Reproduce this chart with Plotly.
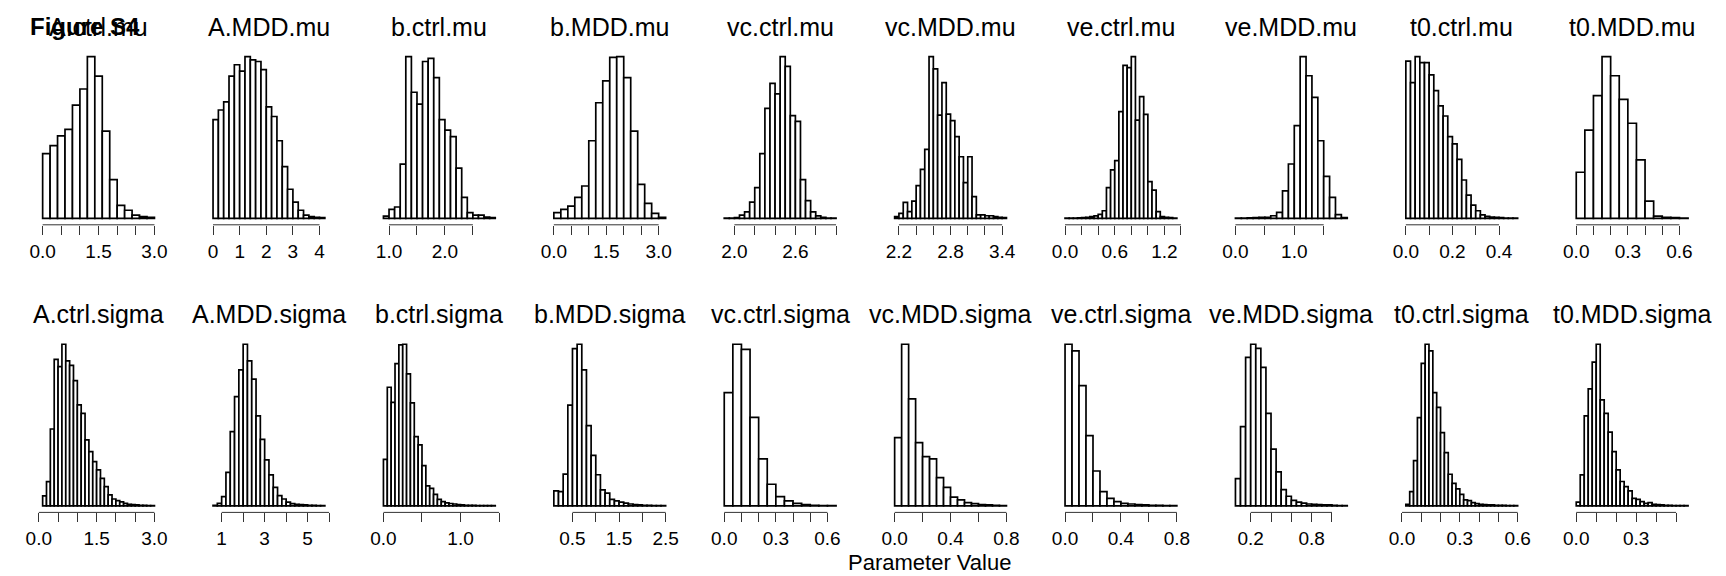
import plotly.graph_objects as go

W, H = 1726, 576

TITLES = ["A.ctrl.mu", "A.MDD.mu", "b.ctrl.mu", "b.MDD.mu", "vc.ctrl.mu",
          "vc.MDD.mu", "ve.ctrl.mu", "ve.MDD.mu", "t0.ctrl.mu", "t0.MDD.mu",
          "A.ctrl.sigma", "A.MDD.sigma", "b.ctrl.sigma", "b.MDD.sigma", "vc.ctrl.sigma",
          "vc.MDD.sigma", "ve.ctrl.sigma", "ve.MDD.sigma", "t0.ctrl.sigma", "t0.MDD.sigma"]

# first histogram break and bin width of each panel
BIN_START = [0.0, 0.0, 0.9, 0.0, 1.9, 2.15, 0.0, 0.0, 0.0, 0.0,
             0.1, 0.6, 0.0, 0.1, 0.0, 0.0, 0.0, 0.05, 0.02, 0.0]
BIN_WIDTH = [0.2, 0.2, 0.1, 0.2, 0.05, 0.05, 0.05, 0.1, 0.02, 0.05,
             0.1, 0.2, 0.05, 0.1, 0.05, 0.05, 0.05, 0.05, 0.02, 0.02]

# relative bar heights (tallest bar = 100)
A_ctrl_mu = [40, 45, 51, 55, 70, 80, 100, 88, 54, 24, 8, 5, 2, 1, 0.6]
A_MDD_mu = [61, 67, 72, 88, 95, 91, 100, 98, 97, 92, 69, 63, 48, 32, 18, 10, 5, 2, 1, 0.6, 0.4]
b_ctrl_mu = [1.4, 5.6, 7, 33.5, 100, 78, 70.7, 97, 99, 87, 61, 54.5, 50.6, 31, 13, 3.5, 2, 2, 0.8, 0.4]
b_MDD_mu = [3.5, 5.6, 7.6, 13, 20, 48, 71.5, 85, 99.6, 100, 87, 54, 21, 9.3, 3.1, 0.6]
vc_ctrl_mu = [0.2, 0.2, 0.4, 2, 4, 10, 19, 40, 68, 83.5, 77, 100, 94, 63.5, 60, 24, 11, 4,
              1.5, 0.6, 0.2, 0.2]
vc_MDD_mu = [1, 3.1, 9.9, 4.1, 10.7, 20.2, 30.3, 42.7, 100, 92.4, 63.9, 83.9, 64.5, 60.4,
             50.5, 38.1, 22.1, 38.1, 13.4, 2.1, 2.1, 1.6, 1.6, 1, 0.6, 0.4]
ve_ctrl_mu = [0.2, 0.2, 0.2, 0.3, 0.4, 0.6, 1, 1.5, 2.5, 4.7, 19, 30, 35.7, 66, 94.6, 93.2,
              100, 60.8, 75.3, 64.3, 22.7, 17.5, 4.1, 1, 0.6, 0.4, 0.2]
ve_MDD_mu = [0.2, 0.2, 0.3, 0.4, 0.6, 0.6, 1.6, 3.7, 17, 33.6, 57.3, 100, 88.2, 74.8, 48,
             26, 13, 2.3, 0.4]
t0_ctrl_mu = [97.3, 83.9, 100, 96.3, 96.3, 88.7, 79, 69.5, 63.3, 50.5, 46, 36.5, 23.7, 14.4,
              8.2, 4.7, 2.1, 1.2, 0.8, 0.6, 0.4, 0.2, 0.2, 0.2]
t0_MDD_mu = [28.5, 54.6, 75.9, 100, 88.2, 73.6, 58.8, 36.1, 10.7, 1.4, 0.6, 0.4, 0.2]
A_ctrl_sigma = [6.2, 15, 47.6, 90.7, 86.2, 100, 89.7, 87, 77.5, 62.5, 57.3, 40.8, 33.6, 27.4,
                22.3, 17.1, 12, 6.8, 4.3, 3.3, 2.5, 1.6, 1, 0.8, 0.6, 0.4, 0.4, 0.2, 0.2]
A_MDD_sigma = [0.4, 1.6, 5.8, 20.8, 46, 67.6, 84.1, 100, 89.7, 78.4, 55.7, 41.2, 28.5, 19.2,
               11.5, 6.4, 4.3, 2.3, 1.4, 1, 0.8, 0.6, 0.4, 0.4, 0.2, 0.2]
b_ctrl_sigma = [28.8, 73.4, 64.1, 88, 99.6, 100, 81.7, 63.7, 42.9, 37.8, 24.9, 12.4, 10.8,
                7.1, 4.1, 2.7, 1.9, 1.5, 1.2, 0.8, 0.6, 0.4, 0.4, 0.4, 0.2, 0.2, 0.2, 0.2, 0.2]
b_MDD_sigma = [9.3, 8.9, 19.7, 62.3, 97.3, 100, 84.1, 49.7, 31.3, 19.3, 9.9, 7.9, 4.1, 3.1,
               2.3, 1.7, 1.2, 0.8, 0.6, 0.4, 0.4, 0.2, 0.2, 0.2]
vc_ctrl_sigma = [70.1, 100, 96.9, 54.8, 29.1, 13.4, 5.8, 3.1, 1.6, 0.8, 0.4, 0.2, 0.2]
vc_MDD_sigma = [42.3, 100, 66.2, 39.2, 30.5, 29.1, 17.5, 11.5, 5.4, 3.7, 2.1, 1.4, 0.8, 0.6,
                0.4, 0.2]
ve_ctrl_sigma = [100, 95.9, 74.4, 43.5, 21.6, 8.9, 4.7, 2.7, 1.6, 1.2, 0.8, 0.6, 0.4, 0.4,
                 0.2, 0.2]
ve_MDD_sigma = [16.9, 49, 91.9, 100, 97.5, 85.7, 57.2, 35.1, 21.1, 10.1, 6, 3.5, 2.3, 1.7,
                1.2, 1, 0.8, 0.6, 0.6, 0.4, 0.2, 0.2]
t0_ctrl_sigma = [1, 8.9, 28, 54.6, 88.2, 100, 95.9, 70.1, 61, 45.4, 33, 19.6, 14, 10.5, 7.2,
                 3.7, 3.3, 2.1, 1.4, 1, 0.8, 0.6, 0.6, 0.4, 0.4, 0.4, 0.2, 0.2, 0.2]
t0_MDD_sigma = [2.3, 19.2, 55.7, 72.4, 88.9, 100, 65.6, 57.3, 45.6, 33.6, 22.3, 15.1, 12, 9.3,
                4.7, 4.1, 2.7, 1.6, 2.1, 1, 0.8, 0.6, 0.4, 0.4, 0.2, 0.2, 0.2, 0.2]

COUNTS = [A_ctrl_mu, A_MDD_mu, b_ctrl_mu, b_MDD_mu, vc_ctrl_mu, vc_MDD_mu, ve_ctrl_mu,
          ve_MDD_mu, t0_ctrl_mu, t0_MDD_mu, A_ctrl_sigma, A_MDD_sigma, b_ctrl_sigma,
          b_MDD_sigma, vc_ctrl_sigma, vc_MDD_sigma, ve_ctrl_sigma, ve_MDD_sigma,
          t0_ctrl_sigma, t0_MDD_sigma]

TICK_VALS = [
    [0, 0.5, 1, 1.5, 2, 2.5, 3],
    [0, 1, 2, 3, 4],
    [1.0, 1.5, 2.0, 2.5],
    [0, 0.5, 1, 1.5, 2, 2.5, 3],
    [2.0, 2.2, 2.4, 2.6, 2.8, 3.0],
    [2.2, 2.4, 2.6, 2.8, 3.0, 3.2, 3.4],
    [0, 0.2, 0.4, 0.6, 0.8, 1.0, 1.2, 1.4],
    [0, 0.5, 1.0, 1.5],
    [0, 0.1, 0.2, 0.3, 0.4],
    [0, 0.1, 0.2, 0.3, 0.4, 0.5, 0.6],
    [0, 0.5, 1, 1.5, 2, 2.5, 3],
    [1, 2, 3, 4, 5, 6],
    [0, 0.5, 1.0, 1.5],
    [0.5, 1.0, 1.5, 2.0, 2.5],
    [0, 0.1, 0.2, 0.3, 0.4, 0.5, 0.6],
    [0, 0.2, 0.4, 0.6, 0.8],
    [0, 0.2, 0.4, 0.6, 0.8],
    [0.2, 0.4, 0.6, 0.8, 1.0],
    [0, 0.1, 0.2, 0.3, 0.4, 0.5, 0.6],
    [0, 0.1, 0.2, 0.3, 0.4, 0.5],
]
TICK_TEXT = [
    ["0.0", "", "", "1.5", "", "", "3.0"],
    ["0", "1", "2", "3", "4"],
    ["1.0", "", "2.0", ""],
    ["0.0", "", "", "1.5", "", "", "3.0"],
    ["2.0", "", "", "2.6", "", ""],
    ["2.2", "", "", "2.8", "", "", "3.4"],
    ["0.0", "", "", "0.6", "", "", "1.2", ""],
    ["0.0", "", "1.0", ""],
    ["0.0", "", "0.2", "", "0.4"],
    ["0.0", "", "", "0.3", "", "", "0.6"],
    ["0.0", "", "", "1.5", "", "", "3.0"],
    ["1", "", "3", "", "5", ""],
    ["0.0", "", "1.0", ""],
    ["0.5", "", "1.5", "", "2.5"],
    ["0.0", "", "", "0.3", "", "", "0.6"],
    ["0.0", "", "0.4", "", "0.8"],
    ["0.0", "", "0.4", "", "0.8"],
    ["0.2", "", "", "0.8", ""],
    ["0.0", "", "", "0.3", "", "", "0.6"],
    ["0.0", "", "", "0.3", "", ""],
]

X_LABEL = "Parameter Value"
FIG_LABEL = "Figure S4"

FONT = "Liberation Sans, Arial, Helvetica, sans-serif"
COL_W = 172.6
PLOT_L, PLOT_R = 25.5, 147.8
ROW_TOP = [50.2, 337.8]
PLOT_H = 174.6

fig = go.Figure()
layout = dict(
    width=W, height=H, margin=dict(l=0, r=0, t=0, b=0),
    paper_bgcolor="white", plot_bgcolor="white", showlegend=False,
    font=dict(family=FONT, color="black"),
)
shapes = []
annotations = []

for i, (title, counts) in enumerate(zip(TITLES, COUNTS)):
    row, col = divmod(i, 10)
    n = i + 1
    xa = "xaxis" if n == 1 else f"xaxis{n}"
    ya = "yaxis" if n == 1 else f"yaxis{n}"
    xr = "x" if n == 1 else f"x{n}"
    yr = "y" if n == 1 else f"y{n}"

    start, bw = BIN_START[i], BIN_WIDTH[i]
    lefts = [start + k * bw for k in range(len(counts))]
    end = start + bw * len(counts)
    pad = 0.04 * (end - start)
    ymax = max(counts)

    fig.add_trace(go.Bar(
        x=lefts, y=counts, width=[bw] * len(counts), offset=0,
        marker=dict(color="white", line=dict(color="black", width=1.7)),
        xaxis=xr, yaxis=yr, hoverinfo="skip",
    ))

    x0 = (COL_W * col + PLOT_L) / W
    x1 = (COL_W * col + PLOT_R) / W
    top = ROW_TOP[row]
    y1 = 1 - top / H
    y0 = 1 - (top + PLOT_H) / H

    layout[xa] = dict(
        domain=[x0, x1], anchor=yr, range=[start - pad, end + pad],
        showgrid=False, zeroline=False, showline=False,
        ticks="outside", ticklen=9, tickwidth=1, tickcolor="#333",
        tickmode="array", tickvals=TICK_VALS[i], ticktext=TICK_TEXT[i],
        tickfont=dict(size=19, family=FONT, color="black"),
    )
    layout[ya] = dict(
        domain=[y0, y1], anchor=xr, range=[-0.04 * ymax, 1.04 * ymax],
        visible=False, showgrid=False, zeroline=False,
    )
    tv = TICK_VALS[i]
    shapes.append(dict(
        type="line", xref=xr, yref=f"{yr} domain",
        x0=tv[0], x1=tv[-1], y0=0, y1=0,
        line=dict(color="#333", width=1),
    ))
    annotations.append(dict(
        text=title, xref="paper", yref="paper",
        x=(COL_W * col + (PLOT_L + PLOT_R) / 2) / W, y=1 - (top - 23.5) / H,
        xanchor="center", yanchor="middle", showarrow=False,
        font=dict(size=25, family=FONT, color="black"),
    ))

annotations.append(dict(
    text=X_LABEL, xref="paper", yref="paper", x=928.5 / W, y=0,
    xanchor="center", yanchor="bottom", showarrow=False, borderpad=0,
    font=dict(size=22, family=FONT, color="black"),
))
annotations.append(dict(
    text=f"<b>{FIG_LABEL}</b>", xref="paper", yref="paper", x=15 / W, y=1 - 26.7 / H,
    xanchor="left", yanchor="middle", showarrow=False,
    font=dict(size=24, family=FONT, color="black"),
))

layout["shapes"] = shapes
layout["annotations"] = annotations
fig.update_layout(**layout)

fig.write_html(
    "out.html",
    config={"displayModeBar": False, "responsive": False},
    post_script="document.body.style.margin='0';document.body.style.overflow='hidden';",
)
